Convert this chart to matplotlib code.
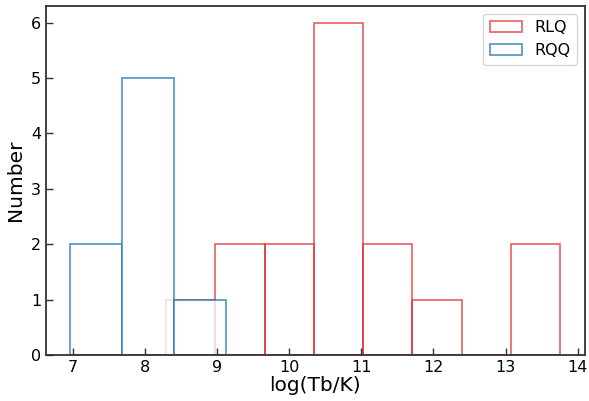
import numpy as np
import matplotlib
matplotlib.use("Agg")
import matplotlib.pyplot as plt

# histogram bins
rlq_edges = [8.29, 8.97, 9.66, 10.34, 11.02, 11.71, 12.39, 13.08, 13.76]
rlq_counts = [1, 2, 2, 6, 2, 1, 0, 2]

rqq_edges = [6.97, 7.69, 8.41, 9.13]
rqq_counts = [2, 5, 1]

fig = plt.figure(figsize=(5.89, 4.01), dpi=100)
ax = fig.add_axes([0.078, 0.115, 0.915, 0.870])

ax.hist(rlq_edges[:-1], bins=rlq_edges, weights=rlq_counts, histtype='bar',
        facecolor='none', edgecolor='#e02a2f', linewidth=1.2, alpha=0.75, label='RLQ')
ax.hist(rqq_edges[:-1], bins=rqq_edges, weights=rqq_counts, histtype='bar',
        facecolor='white', edgecolor='#1f77b4', linewidth=1.2, alpha=0.8, label='RQQ')

for sp in ax.spines.values():
    sp.set_linewidth(1.3)
    sp.set_color('#333333')
    sp.set_zorder(5)

ax.set_xlabel('log(Tb/K)', fontsize=14.5, labelpad=1)
ax.set_ylabel('Number', fontsize=14.5)
ax.tick_params(direction='in', labelsize=11.5, length=5, width=1, color='#333333')
ax.set_xticks(np.arange(7, 15))
ax.set_yticks(np.arange(0, 7))

ax.legend(loc='upper right', fontsize=11.5)

fig.savefig('out.png', dpi=100)
